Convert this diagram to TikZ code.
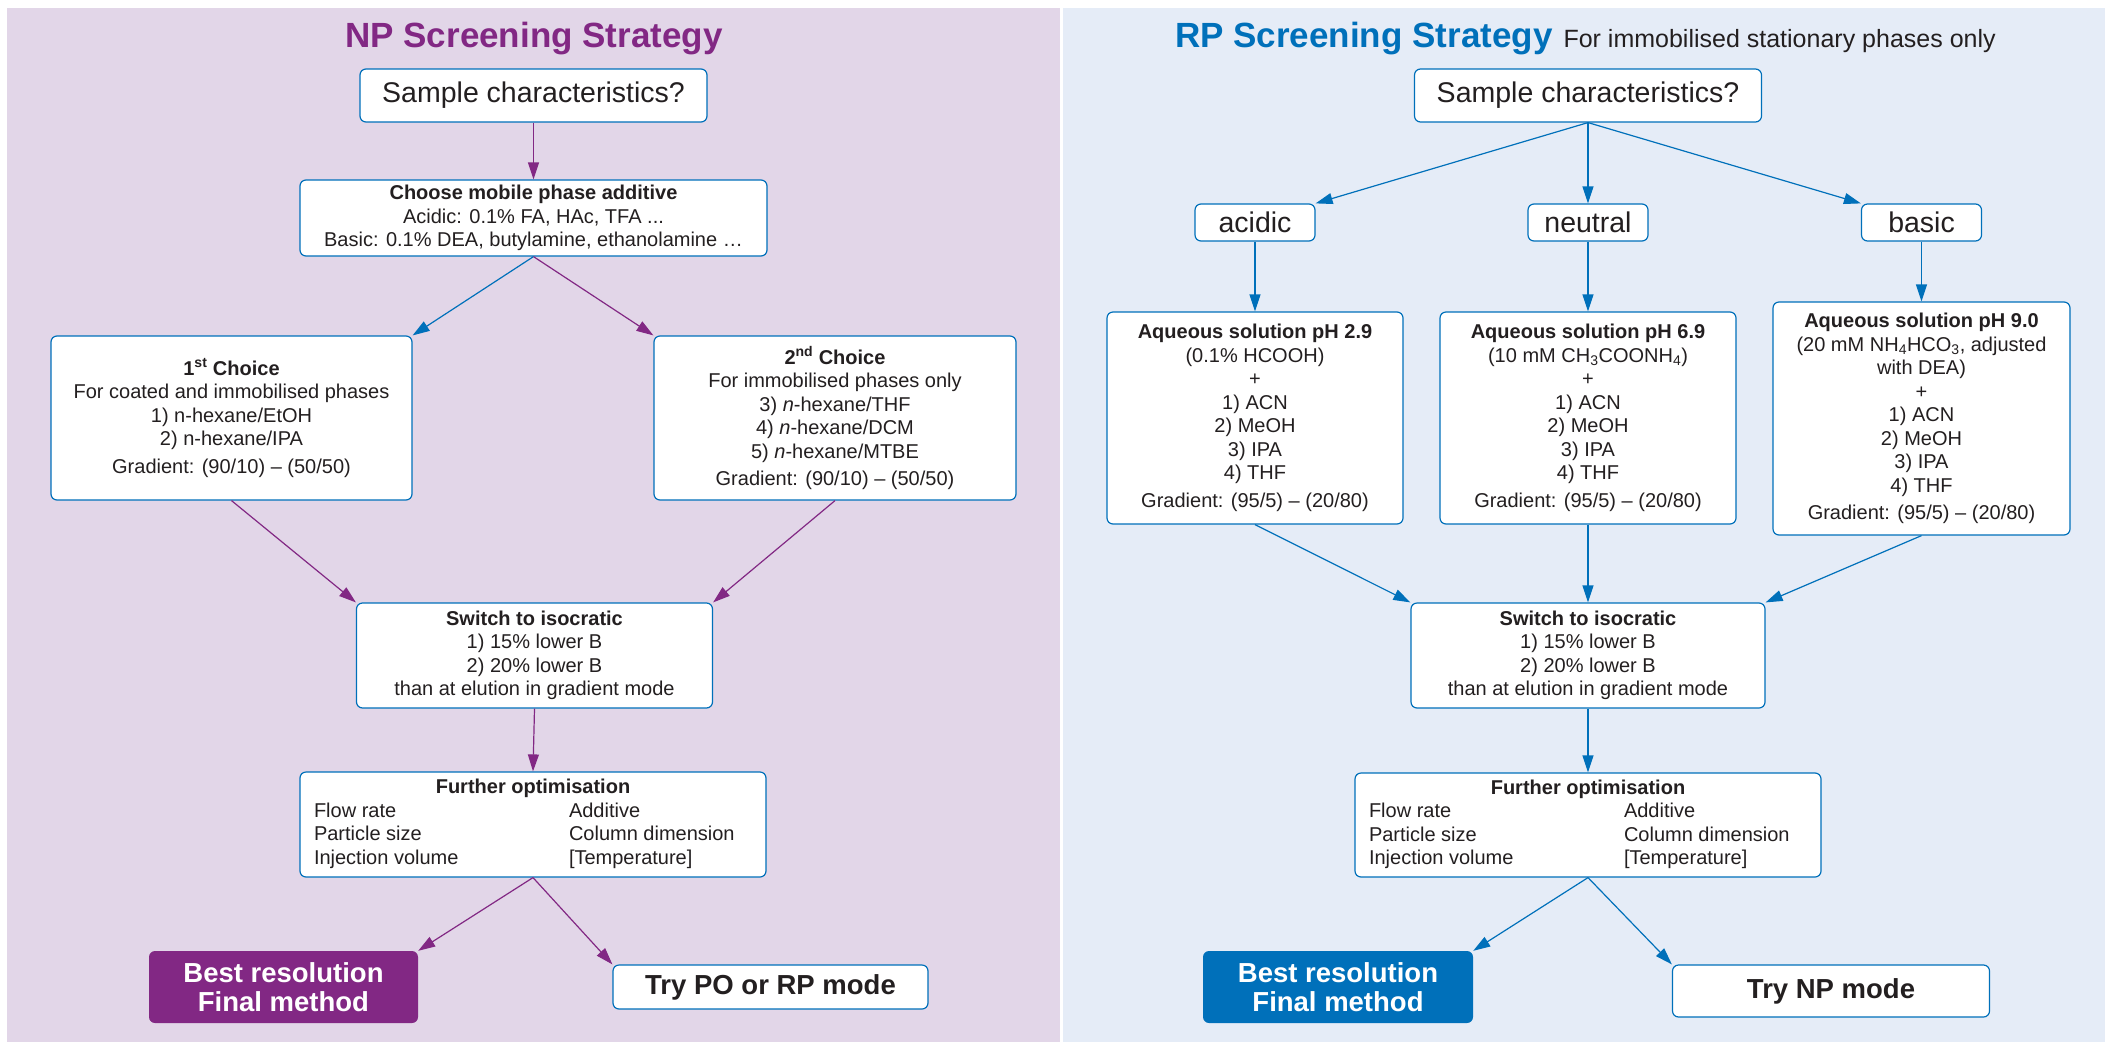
\documentclass[tikz,border=0pt]{standalone}
\usepackage{fontspec}
\setmainfont{Liberation Sans}
\usetikzlibrary{arrows.meta}
\definecolor{nppurple}{RGB}{130,40,132}
\definecolor{rpblue}{RGB}{0,112,186}
\definecolor{npback}{RGB}{226,214,232}
\definecolor{rpback}{RGB}{229,236,247}
\definecolor{ink}{RGB}{35,31,32}
\newcommand{\bodyfont}{\fontsize{20pt}{23.5pt}\selectfont}
\newcommand{\bigfont}{\fontsize{28.5pt}{32pt}\selectfont}
\newcommand{\closefont}{\fontsize{27.5pt}{29pt}\selectfont\bfseries}
\tikzset{
  box/.style={draw=rpblue, line width=1.2pt, rounded corners=6pt, fill=white,
    align=center, inner sep=0pt, text=ink, font=\bodyfont},
  askbox/.style={box, font=\bigfont},
  finalbox/.style={rounded corners=6pt, align=center, inner sep=0pt,
    text=white, font=\closefont},
  trybox/.style={box, font=\closefont},
  npline/.style={draw=nppurple, line width=1.2pt, -{Triangle[length=17pt,width=11pt]}},
  rpline/.style={draw=rpblue, line width=1.2pt, -{Triangle[length=17pt,width=11pt]}}
}
\begin{document}
\begin{tikzpicture}[x=1pt,y=-1pt]
\fill[white] (0,0) rectangle (2105,1042);
\useasboundingbox (0,0) rectangle (2105,1042);
\fill[npback] (7,8) rectangle (1060,1042);
\fill[rpback] (1063,8) rectangle (2105,1042);

% NP side
\node[anchor=base, text=nppurple, font=\fontsize{35pt}{40pt}\selectfont\bfseries]
  (titleL) at (534,47) {NP Screening Strategy};
\node[askbox, minimum width=347pt, minimum height=53pt] (sampleL) at (533.5,95.5)
  {Sample characteristics?};
\node[box, minimum width=467pt, minimum height=76pt] (chooseL) at (533.5,218)
  {\textbf{Choose mobile phase additive}\\Acidic: 0.1\% FA, HAc, TFA ...\\
   Basic: 0.1\% DEA, butylamine, ethanolamine …};
\node[box, minimum width=361pt, minimum height=164pt] (first) at (231.5,418)
  {\textbf{1\textsuperscript{st} Choice}\\For coated and immobilised phases\\
   1) n-hexane/EtOH\\2) n-hexane/IPA\\[4pt]Gradient: (90/10) – (50/50)};
\node[box, minimum width=362pt, minimum height=164pt] (second) at (835,418)
  {\textbf{2\textsuperscript{nd} Choice}\\For immobilised phases only\\
   3) \textit{n}-hexane/THF\\4) \textit{n}-hexane/DCM\\5) \textit{n}-hexane/MTBE\\[4pt]
   Gradient: (90/10) – (50/50)};
\node[box, minimum width=356pt, minimum height=105pt] (switchL) at (534.5,655.5)
  {\textbf{Switch to isocratic}\\1) 15\% lower B\\2) 20\% lower B\\than at elution in gradient mode};
\node[box, minimum width=466pt, minimum height=105pt] (furtherL) at (533,824.5)
  {\begin{tabular}{@{}p{255pt}@{}p{183pt}@{}}
   \multicolumn{2}{@{}c@{}}{\bfseries Further optimisation}\\
   Flow rate & Additive\\ Particle size & Column dimension\\ Injection volume & [Temperature]
   \end{tabular}};
\node[finalbox, fill=nppurple, minimum width=269pt, minimum height=72pt] (bestL) at (283.5,987)
  {Best resolution\\Final method};
\node[trybox, minimum width=315pt, minimum height=44pt] (tryPO) at (770.5,987)
  {Try PO or RP mode};

\draw[npline] (sampleL.south) -- (chooseL.north);
\draw[rpline] (chooseL.south) -- (first.north east);
\draw[npline] (chooseL.south) -- (second.north west);
\draw[npline] (first.south) -- (switchL.north west);
\draw[npline] (second.south) -- (switchL.north east);
\draw[npline] (switchL.south) -- (furtherL.north);
\draw[npline] (furtherL.south) -- (bestL.north east);
\draw[npline] (furtherL.south) -- (tryPO.north west);

% RP side
\node[anchor=base west, inner sep=0pt] (titleR) at (1175,47)
  {\textcolor{rpblue}{\fontsize{35pt}{40pt}\selectfont\bfseries RP Screening Strategy}\hspace{11pt}%
   \textcolor{ink}{\fontsize{25pt}{28pt}\selectfont For immobilised stationary phases only}};
\node[askbox, minimum width=347pt, minimum height=53pt] (sampleR) at (1588,95.5)
  {Sample characteristics?};
\node[askbox, minimum width=120pt, minimum height=37pt] (acidic) at (1255,222.5) {acidic};
\node[askbox, minimum width=120pt, minimum height=37pt] (neutral) at (1588,222.5) {neutral};
\node[askbox, minimum width=120pt, minimum height=37pt] (basic) at (1921.5,222.5) {basic};
\node[box, minimum width=296pt, minimum height=212pt] (aqA) at (1255,418)
  {\textbf{Aqueous solution pH 2.9}\\(0.1\% HCOOH)\\+\\1) ACN\\2) MeOH\\3) IPA\\4) THF\\[4pt]
   Gradient: (95/5) – (20/80)};
\node[box, minimum width=296pt, minimum height=212pt] (aqN) at (1588,418)
  {\textbf{Aqueous solution pH 6.9}\\(10 mM CH\textsubscript{3}COONH\textsubscript{4})\\+\\
   1) ACN\\2) MeOH\\3) IPA\\4) THF\\[4pt]Gradient: (95/5) – (20/80)};
\node[box, minimum width=297pt, minimum height=233pt] (aqB) at (1921.5,418.5)
  {\textbf{Aqueous solution pH 9.0}\\(20 mM NH\textsubscript{4}HCO\textsubscript{3}, adjusted\\
   with DEA)\\+\\1) ACN\\2) MeOH\\3) IPA\\4) THF\\[4pt]Gradient: (95/5) – (20/80)};
\node[box, minimum width=354pt, minimum height=105pt] (switchR) at (1588,655.5)
  {\textbf{Switch to isocratic}\\1) 15\% lower B\\2) 20\% lower B\\than at elution in gradient mode};
\node[box, minimum width=466pt, minimum height=104pt] (furtherR) at (1588,825)
  {\begin{tabular}{@{}p{255pt}@{}p{183pt}@{}}
   \multicolumn{2}{@{}c@{}}{\bfseries Further optimisation}\\
   Flow rate & Additive\\ Particle size & Column dimension\\ Injection volume & [Temperature]
   \end{tabular}};
\node[finalbox, fill=rpblue, minimum width=270pt, minimum height=72pt] (bestR) at (1338,987)
  {Best resolution\\Final method};
\node[trybox, minimum width=317pt, minimum height=52pt] (tryNP) at (1831,991)
  {Try NP mode};

\draw[rpline] (sampleR.south) -- (acidic.north east);
\draw[rpline] (sampleR.south) -- (neutral.north);
\draw[rpline] (sampleR.south) -- (basic.north west);
\draw[rpline] (acidic.south) -- (aqA.north);
\draw[rpline] (neutral.south) -- (aqN.north);
\draw[rpline] (basic.south) -- (aqB.north);
\draw[rpline] (aqA.south) -- (switchR.north west);
\draw[rpline] (aqN.south) -- (switchR.north);
\draw[rpline] (aqB.south) -- (switchR.north east);
\draw[rpline] (switchR.south) -- (furtherR.north);
\draw[rpline] (furtherR.south) -- (bestR.north east);
\draw[rpline] (furtherR.south) -- (tryNP.north west);
\end{tikzpicture}
\end{document}
